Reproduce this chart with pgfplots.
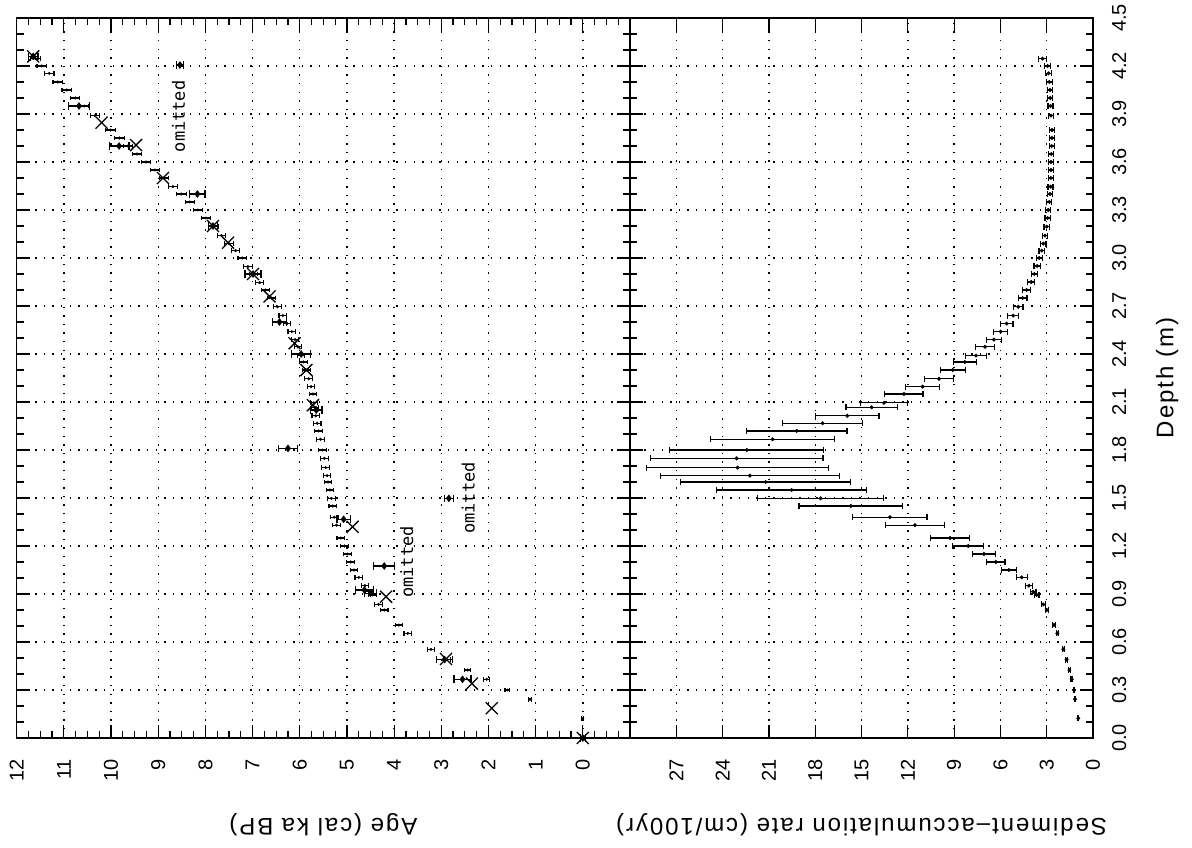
\documentclass[border=0pt]{standalone}
\usepackage{fontspec}
\setmainfont{Liberation Sans}
\newfontfamily\labfont{Liberation Sans}[LetterSpace=8]
\newfontfamily\omfont{DejaVu Sans Mono}
\usepackage{pgfplots}
\pgfplotsset{compat=1.18}
\newcommand\ticfont{\fontsize{20bp}{22bp}\selectfont}
\newcommand\labsize{\labfont\fontsize{24bp}{26bp}\selectfont}
\newcommand\omsize{\omfont\fontsize{17bp}{19bp}\selectfont}

\pgfplotsset{
  panel/.style={
    scale only axis, height=720bp, ymin=0, ymax=4.5,
    ytick={0,0.3,0.6,0.9,1.2,1.5,1.8,2.1,2.4,2.7,3.0,3.3,3.6,3.9,4.2,4.5},
    minor y tick num=2,
    tick align=inside,
    major tick length=13bp, minor tick length=7bp,
    axis line style={line width=1.6bp},
    tick style={black, line width=1.2bp},
    grid=major,
    major grid style={black, line width=1.4bp, dash pattern=on 1.4bp off 7.2bp},
    x dir=reverse,
    xticklabel pos=lower, xtick pos=both,
    xticklabel style={rotate=90, anchor=east, font=\ticfont, inner sep=0pt},
    xticklabel shift=21bp,
    /pgf/number format/assume math mode=true,
    xlabel style={at={(axis description cs:0.5,-0.121)}, anchor=center, rotate=180, font=\labsize},
  },
  modelbar/.style={only marks, mark=*, mark size=1.3bp, black,
    error bars/.cd, x dir=both, x explicit, error mark=|,
    error bar style={line width=1.1bp, black},
    error mark options={mark size=2.3bp, line width=1.1bp, black}},
}

\begin{document}
\begin{tikzpicture}
\useasboundingbox (0,0) rectangle (1192bp,848bp);

% ---------- Age panel ----------
\begin{axis}[panel, at={(16.7bp,110bp)}, anchor=south west, width=613.3bp,
  xmin=-1, xmax=12, xtick={-1,0,...,12},
  xticklabels={,0,1,2,3,4,5,6,7,8,9,10,11,12},
  minor x tick num=3,
  ytick pos=both, yticklabels={},
  xlabel={Age (cal ka BP)}, clip=false]

% age-depth model
\addplot[modelbar] table[x=age, y=d, x error=e] {
d age e
0.123 0.00 0.02
0.242 1.12 0.04
0.300 1.60 0.05
0.367 2.04 0.06
0.425 2.44 0.06
0.490 2.88 0.07
0.554 3.22 0.07
0.654 3.71 0.08
0.706 3.90 0.08
0.800 4.21 0.08
0.835 4.33 0.08
0.894 4.46 0.08
0.914 4.52 0.08
0.952 4.62 0.08
1.004 4.75 0.08
1.050 4.85 0.08
1.100 4.92 0.08
1.150 4.99 0.08
1.200 5.05 0.08
1.250 5.13 0.08
1.330 5.22 0.08
1.380 5.27 0.08
1.450 5.30 0.08
1.498 5.33 0.08
1.550 5.36 0.08
1.600 5.40 0.08
1.640 5.42 0.08
1.690 5.45 0.08
1.748 5.48 0.08
1.800 5.52 0.08
1.867 5.56 0.08
1.919 5.60 0.08
1.967 5.63 0.08
2.014 5.66 0.08
2.067 5.68 0.08
2.095 5.70 0.08
2.150 5.72 0.08
2.196 5.76 0.08
2.245 5.81 0.08
2.300 5.86 0.08
2.350 5.92 0.08
2.390 5.97 0.08
2.445 6.04 0.08
2.490 6.10 0.08
2.540 6.17 0.08
2.590 6.27 0.08
2.640 6.36 0.08
2.695 6.47 0.08
2.750 6.60 0.09
2.800 6.73 0.09
2.846 6.85 0.09
2.900 6.98 0.09
2.946 7.10 0.09
3.000 7.22 0.09
3.046 7.36 0.09
3.090 7.50 0.09
3.140 7.66 0.09
3.196 7.83 0.10
3.250 7.99 0.10
3.300 8.16 0.10
3.350 8.33 0.10
3.400 8.51 0.10
3.446 8.69 0.10
3.500 8.88 0.10
3.550 9.07 0.10
3.600 9.26 0.10
3.650 9.45 0.10
3.700 9.64 0.10
3.750 9.82 0.10
3.800 10.01 0.10
3.890 10.34 0.10
3.950 10.57 0.10
4.000 10.76 0.10
4.050 10.94 0.10
4.100 11.13 0.10
4.154 11.31 0.10
4.200 11.47 0.10
4.246 11.60 0.10
};

% dated samples (diamonds with error bars)
\addplot[only marks, mark=diamond*, mark size=3.5bp, black,
  error bars/.cd, x dir=both, x explicit, error mark=|,
  error bar style={line width=1.2bp, black},
  error mark options={mark size=3.8bp, line width=1.2bp, black}]
  table[x=age, y=d, x error=e] {
age d e
11.65 4.260 0.10
10.68 3.950 0.22
9.83 3.700 0.21
8.17 3.400 0.16
7.84 3.200 0.10
6.99 2.900 0.17
6.43 2.600 0.15
5.97 2.400 0.20
5.65 2.050 0.12
6.25 1.810 0.20
5.07 1.367 0.14
4.63 0.925 0.19
4.50 0.905 0.12
2.93 0.490 0.17
2.55 0.367 0.18
0.00 0.000 0.05
8.54 4.206 0.08
4.21 1.075 0.22
2.84 1.498 0.10
};

% calibration points (crosses)
\addplot[only marks, mark=x, mark size=8.5bp, black, mark options={line width=1.3bp}]
  table[x=age, y=d] {
age d
11.65 4.260
10.20 3.846
9.47 3.706
8.90 3.500
7.84 3.200
7.52 3.096
6.99 2.900
6.64 2.760
6.11 2.467
5.86 2.300
5.72 2.080
4.88 1.320
4.17 0.883
2.90 0.494
2.35 0.340
1.93 0.186
0.00 0.000
};

\node[rotate=90, font=\omsize, inner sep=0pt] at (axis cs:8.57,3.885) {omitted};
\node[rotate=90, font=\omsize, inner sep=0pt] at (axis cs:3.73,1.10) {omitted};
\node[rotate=90, font=\omsize, inner sep=0pt] at (axis cs:2.43,1.50) {omitted};
\end{axis}

% ---------- Rate panel ----------
\begin{axis}[panel, at={(630bp,110bp)}, anchor=south west, width=463bp,
  xmin=0, xmax=30, xtick={0,3,...,27},
  yticklabel pos=right, ytick pos=both,
  yticklabel style={rotate=90, anchor=north, font=\ticfont, inner sep=0pt,
    /pgf/number format/.cd, fixed, fixed zerofill, precision=1},
  yticklabel shift=19bp,
  ylabel={Depth (m)},
  ylabel style={at={(axis description cs:1.16,0.5)}, anchor=center, rotate=0, font=\labsize},
  xlabel={Sediment–accumulation rate (cm/100yr)}, clip=false]

\addplot[only marks, mark=*, mark size=1.8bp, black,
  error bars/.cd, x dir=both, x explicit, error mark=|,
  error bar style={line width=1.2bp, black},
  error mark options={mark size=3bp, line width=1.2bp, black}]
  table[x=r, y=d, x error=e] {
d r e
0.123 0.95 0.03
0.242 1.17 0.04
0.300 1.23 0.04
0.367 1.38 0.05
0.425 1.53 0.05
0.490 1.71 0.06
0.554 1.92 0.06
0.654 2.31 0.07
0.706 2.53 0.08
0.800 3.00 0.10
0.835 3.22 0.12
0.894 3.65 0.15
0.914 3.87 0.17
0.952 4.15 0.22
1.004 4.62 0.35
1.050 5.45 0.50
1.100 6.30 0.60
1.150 7.06 0.75
1.200 8.08 1.00
1.250 9.27 1.25
1.330 11.54 1.90
1.380 13.16 2.40
1.450 15.70 3.35
1.498 17.65 4.10
1.550 19.53 4.86
1.600 21.21 5.50
1.640 22.23 5.80
1.690 23.03 5.90
1.748 23.09 5.60
1.800 22.44 5.00
1.867 20.76 4.00
1.919 19.20 3.26
1.967 17.52 2.60
2.014 15.92 2.05
2.067 14.34 1.66
2.095 13.54 1.50
2.150 12.25 1.24
2.196 11.04 1.10
2.245 9.98 0.92
2.300 9.09 0.81
2.350 8.30 0.76
2.390 7.58 0.68
2.445 7.00 0.60
2.490 6.42 0.50
2.540 5.98 0.45
2.590 5.59 0.40
2.640 5.17 0.35
2.695 4.84 0.30
2.750 4.56 0.28
2.800 4.30 0.25
2.850 4.00 0.22
2.900 3.80 0.20
2.950 3.62 0.20
3.000 3.48 0.20
3.046 3.32 0.18
3.090 3.22 0.18
3.140 3.11 0.18
3.196 3.00 0.17
3.250 2.94 0.17
3.300 2.90 0.17
3.350 2.83 0.16
3.400 2.79 0.16
3.446 2.75 0.16
3.500 2.73 0.16
3.550 2.72 0.16
3.600 2.72 0.16
3.650 2.70 0.16
3.700 2.68 0.16
3.750 2.67 0.16
3.800 2.66 0.16
3.890 2.72 0.16
3.950 2.75 0.16
4.000 2.77 0.17
4.050 2.79 0.17
4.100 2.83 0.18
4.154 2.88 0.18
4.200 2.94 0.20
4.246 3.27 0.27
};
\end{axis}
\end{tikzpicture}
\end{document}
